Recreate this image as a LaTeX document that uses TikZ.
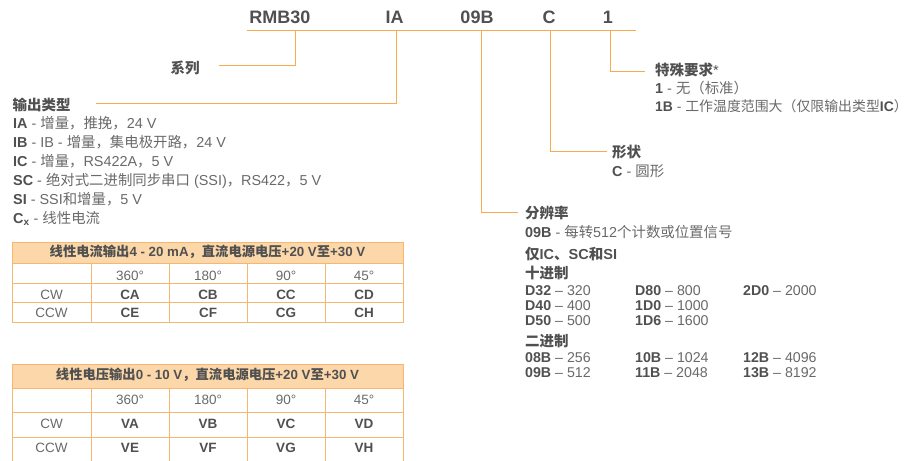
\documentclass[tikz,border=0pt]{standalone}
\usepackage{fontspec}
\usepackage{xcolor}
\usepackage{tikz}
\setmainfont{Liberation Sans}
\newfontfamily\hanfont{Noto Sans CJK SC}
% switch to the CJK font for Han characters and full-width punctuation
\XeTeXinterchartokenstate=1
\newXeTeXintercharclass\hanclass
\makeatletter
\count@="3000
\loop\XeTeXcharclass\count@=\hanclass \advance\count@ by 1 \ifnum\count@<"3040 \repeat
\count@="4E00
\loop\XeTeXcharclass\count@=\hanclass \advance\count@ by 1 \ifnum\count@<"A000 \repeat
\count@="FF00
\loop\XeTeXcharclass\count@=\hanclass \advance\count@ by 1 \ifnum\count@<"FFF0 \repeat
\makeatother
\XeTeXinterchartoks 0 \hanclass = {\hanfont}
\XeTeXinterchartoks 4095 \hanclass = {\hanfont}
\XeTeXinterchartoks \hanclass 0 = {\rmfamily}
\XeTeXinterchartoks \hanclass 4095 = {\rmfamily}
\definecolor{leadorange}{RGB}{247,170,80}
\definecolor{gridorange}{RGB}{246,184,112}
\definecolor{hdrpeach}{RGB}{251,215,170}
\definecolor{txtgray}{RGB}{105,105,105}
\definecolor{hdgray}{RGB}{80,80,80}
\newcommand{\kw}[1]{{\color{hdgray}\bfseries #1}}
\tikzset{
  lead/.style={draw=leadorange, line width=1pt},
  grid/.style={draw=gridorange, line width=1pt},
  txt/.style={inner sep=0pt, anchor=base west, text=txtgray,
    font=\fontsize{14.4}{19}\selectfont},
  hd/.style={txt, text=hdgray, font=\fontsize{14.5}{19}\selectfont\bfseries},
  codelbl/.style={inner sep=0pt, anchor=base, text=hdgray,
    font=\fontsize{18}{22}\selectfont\bfseries},
  restxt/.style={txt, font=\fontsize{14.2}{15}\selectfont},
  cell/.style={inner sep=0pt, anchor=base, text=txtgray,
    font=\fontsize{13.5}{16}\selectfont},
  tabhd/.style={cell, text=hdgray, font=\fontsize{13.3}{16}\selectfont\bfseries}
}

\begin{document}
\begin{tikzpicture}[x=1pt, y=-1pt]
  \useasboundingbox (0,0) rectangle (914,461);
  % Order code
  \node[codelbl] (rmb) at (280,23) {RMB30};
  \node[codelbl] (ia) at (394.5,23) {IA};
  \node[codelbl] (nb) at (477,23) {09B};
  \node[codelbl] (cc) at (549,23) {C};
  \node[codelbl] (one) at (608,23) {1};
  \coordinate (barL) at (247,30);
  \coordinate (barR) at (636,30);
  \draw[lead] (barL) -- (barR);
  % Series
  \node[hd] (series) at (170.5,73.5) {系列};
  \coordinate (kSer) at (295,65);
  \draw[lead] (kSer |- barL) |- ([xshift=19pt]series.east |- kSer);
  % Output type
  \node[hd] (outtype) at (12.5,110) {输出类型};
  \coordinate (kOut) at (396,103);
  \draw[lead] (kOut |- barL) |- ([xshift=25pt]outtype.east |- kOut);
  \foreach \t [count=\i] in {
      {\kw{IA} - 增量，推挽，24 V},
      {\kw{IB} - IB - 增量，集电极开路，24 V},
      {\kw{IC} - 增量，RS422A，5 V},
      {\kw{SC} - 绝对式二进制同步串口 (SSI)，RS422，5 V},
      {\kw{SI} - SSI和增量，5 V},
      {\kw{C\textsubscript{x}} - 线性电流}}
    \node[txt] (ot\i) at (13,{110+18.9*\i}) {\t};
  % Special option
  \node[hd] (opt) at (655,75.5) {特殊要求{\mdseries *}};
  \coordinate (kOpt) at (610,71);
  \draw[lead] (kOpt |- barL) |- ([xshift=-10pt]opt.west |- kOpt);
  \node[txt] (opt1) at (655,93.5) {\kw{1} - 无（标准）};
  \node[txt, font=\fontsize{13.9}{19}\selectfont] (opt2) at (655,111.7)
    {\kw{1B} - 工作温度范围大（仅限输出类型\kw{IC}）};
  % Shape
  \node[hd] (shape) at (612,157.5) {形状};
  \coordinate (kShp) at (550,151);
  \draw[lead] (kShp |- barL) |- ([xshift=-5pt]shape.west |- kShp);
  \node[txt] (shape1) at (612,176) {\kw{C} - 圆形};
  % Resolution
  \node[hd] (res) at (525,218.5) {分辨率};
  \coordinate (kRes) at (481,212);
  \draw[lead] (kRes |- barL) |- ([xshift=-7pt]res.west |- kRes);
  \node[txt] (res1) at (525,237.3) {\kw{09B} - 每转512个计数或位置信号};
  \node[hd] (resonly) at (525,259.3) {仅IC、SC和SI};
  \node[hd] (dec) at (525,278.5) {十进制};
  \node[restxt] at (525,295) {\kw{D32} – 320};
  \node[restxt] at (525,310.5) {\kw{D40} – 400};
  \node[restxt] at (525,325.7) {\kw{D50} – 500};
  \node[restxt] at (635,295) {\kw{D80} – 800};
  \node[restxt] at (635,310.5) {\kw{1D0} – 1000};
  \node[restxt] at (635,325.7) {\kw{1D6} – 1600};
  \node[restxt] at (743,295) {\kw{2D0} – 2000};
  \node[hd] (bin) at (525,346.5) {二进制};
  \node[restxt] at (525,362.7) {\kw{08B} – 256};
  \node[restxt] at (525,377.7) {\kw{09B} – 512};
  \node[restxt] at (635,362.7) {\kw{10B} – 1024};
  \node[restxt] at (635,377.7) {\kw{11B} – 2048};
  \node[restxt] at (743,362.7) {\kw{12B} – 4096};
  \node[restxt] at (743,377.7) {\kw{13B} – 8192};
  % Current output table
  \fill[hdrpeach] (12,242) rectangle (403,263);
  \draw[grid] (12,242) rectangle (403,322);
  \foreach \y in {263,283,302} \draw[grid] (12,\y) -- (403,\y);
  \foreach \x in {91,169,247,325} \draw[grid] (\x,263) -- (\x,322);
  \node[tabhd] (curhd) at (207.5,256.5) {线性电流输出4 - 20 mA，直流电源电压+20 V至+30 V};
  \node[cell] at (51.5,299) {CW};
  \node[cell] at (51.5,317.3) {CCW};
  \foreach \a/\b/\c [count=\i] in {360°/CA/CE, 180°/CB/CF, 90°/CC/CG, 45°/CD/CH} {
    \node[cell] at ({52+78*\i},280) {\a};
    \node[cell, text=hdgray, font=\fontsize{13.5}{16}\selectfont\bfseries] at ({52+78*\i},299) {\b};
    \node[cell, text=hdgray, font=\fontsize{13.5}{16}\selectfont\bfseries] at ({52+78*\i},317.3) {\c};
  }
  % Voltage output table
  \fill[hdrpeach] (12,364) rectangle (403,388);
  \draw[grid] (12,461) -- (12,364) -- (403,364) -- (403,461);
  \foreach \y in {388,412,437} \draw[grid] (12,\y) -- (403,\y);
  \foreach \x in {91,169,247,325} \draw[grid] (\x,388) -- (\x,461);
  \node[tabhd] (volhd) at (207.5,379) {线性电压输出0 - 10 V，直流电源电压+20 V至+30 V};
  \node[cell] at (51.5,428.3) {CW};
  \node[cell] at (51.5,452.3) {CCW};
  \foreach \a/\b/\c [count=\i] in {360°/VA/VE, 180°/VB/VF, 90°/VC/VG, 45°/VD/VH} {
    \node[cell] at ({52+78*\i},404) {\a};
    \node[cell, text=hdgray, font=\fontsize{13.5}{16}\selectfont\bfseries] at ({52+78*\i},428.3) {\b};
    \node[cell, text=hdgray, font=\fontsize{13.5}{16}\selectfont\bfseries] at ({52+78*\i},452.3) {\c};
  }
\end{tikzpicture}
\end{document}
